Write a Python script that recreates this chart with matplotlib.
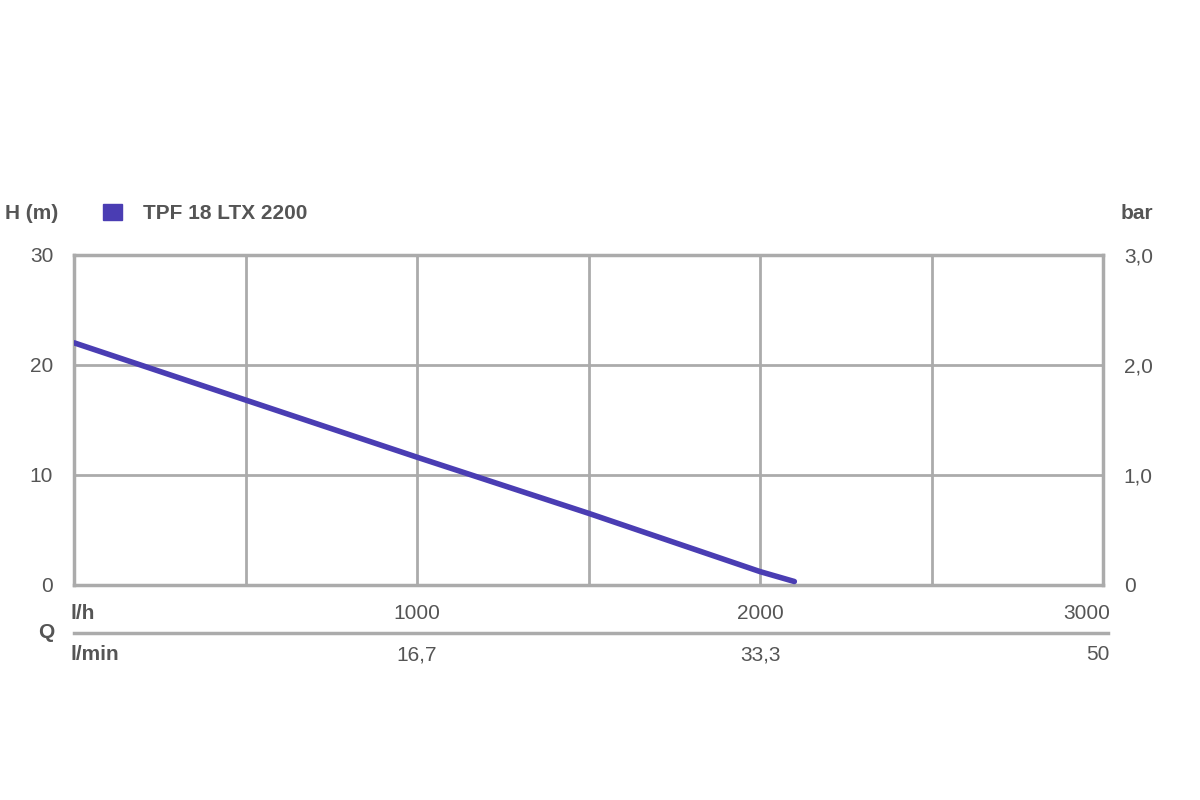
import matplotlib
matplotlib.use("Agg")
import matplotlib.pyplot as plt

# pump curve
q_lh = [0, 500, 1000, 1500, 2000, 2100]
h_m = [22.0, 16.8, 11.6, 6.5, 1.2, 0.3]

series_name = "TPF 18 LTX 2200"
y_ticks = [0, 10, 20, 30]
bar_labels = ["0", "1,0", "2,0", "3,0"]
q_ticks = [1000, 2000, 3000]
lh_labels = ["1000", "2000", "3000"]
lmin_labels = ["16,7", "33,3", "50"]

line_col = "#4a3db3"
grid_col = "#ababab"
txt_col = "#555555"

plt.rcParams["font.family"] = ["Liberation Sans", "DejaVu Sans"]
fs = 15

fig = plt.figure(figsize=(12, 8), dpi=100)
ax = fig.add_axes([0.0617, 0.269, 0.8575, 0.4125])

ax.plot(q_lh, h_m, color=line_col, lw=4, solid_capstyle="round", zorder=3)

ax.set_xlim(0, 3000)
ax.set_ylim(0, 30)
ax.set_xticks([0, 500, 1000, 1500, 2000, 2500, 3000])
ax.set_yticks(y_ticks)
ax.grid(True, color=grid_col, lw=2)
ax.tick_params(length=0, labelbottom=False)
ax.set_yticklabels([str(v) for v in y_ticks], fontsize=fs, color=txt_col)
ax.tick_params(axis="y", pad=15)
for s in ax.spines.values():
    s.set_color(grid_col)
    s.set_linewidth(2.5)

ax2 = ax.twinx()
ax2.set_ylim(0, 3)
ax2.set_yticks([0, 1, 2, 3])
ax2.set_yticklabels(bar_labels, fontsize=fs, color=txt_col)
ax2.tick_params(length=0, pad=15)
for s in ax2.spines.values():
    s.set_visible(False)

# flow scales under the plot
tr = ax.get_xaxis_transform()
ax.plot([0, 3015], [-0.145, -0.145], transform=tr, color=grid_col, lw=2.5,
        clip_on=False)
for q, a, b in zip(q_ticks, lh_labels, lmin_labels):
    ha = "right" if q == 3000 else "center"
    xx = 3020 if q == 3000 else q
    ax.text(xx, -0.088, a, transform=tr, ha=ha, va="center", fontsize=fs,
            color=txt_col)
    ax.text(xx, -0.212, b, transform=tr, ha=ha, va="center", fontsize=fs,
            color=txt_col)
ax.text(-10, -0.088, "l/h", transform=tr, ha="left", va="center", fontsize=fs,
        color=txt_col, fontweight="bold")
ax.text(-10, -0.212, "l/min", transform=tr, ha="left", va="center",
        fontsize=fs, color=txt_col, fontweight="bold")
ax.text(-0.027, -0.145, "Q", transform=ax.transAxes, ha="center",
        va="center", fontsize=fs, color=txt_col, fontweight="bold")

# header texts
fig.text(0.004, 0.733, "H (m)", ha="left", va="center", fontsize=fs,
         color=txt_col, fontweight="bold")
fig.text(0.934, 0.733, "bar", ha="left", va="center", fontsize=fs,
         color=txt_col, fontweight="bold")
fig.patches.append(plt.Rectangle((0.086, 0.725), 0.0158, 0.02,
                                 transform=fig.transFigure, color=line_col))
fig.text(0.119, 0.733, series_name, ha="left", va="center", fontsize=fs,
         color=txt_col, fontweight="bold")

fig.savefig("out.png", dpi=100, facecolor="white")
